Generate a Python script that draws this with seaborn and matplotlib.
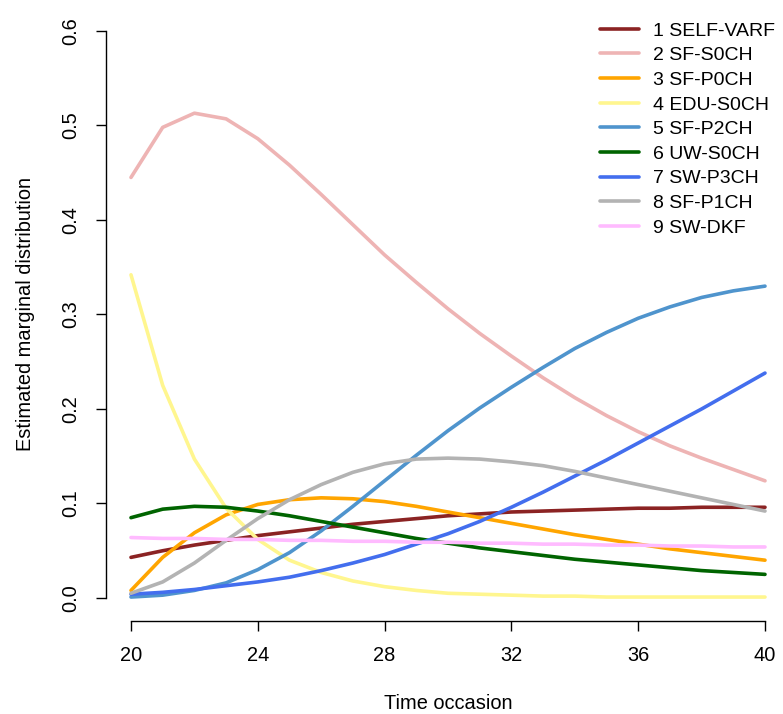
import numpy as np
import pandas as pd
import matplotlib
matplotlib.use("Agg")
import matplotlib.pyplot as plt
import seaborn as sns

# Time occasions and estimated marginal distribution per latent state
time = list(range(20, 41))

labels = ["1 SELF-VARF", "2 SF-S0CH", "3 SF-P0CH", "4 EDU-S0CH", "5 SF-P2CH",
          "6 UW-S0CH", "7 SW-P3CH", "8 SF-P1CH", "9 SW-DKF"]
colors = ["#8B2323", "#EEB4B4", "#FFA500", "#FFF68F", "#4F94CD",
          "#006400", "#436EEE", "#B3B3B3", "#FFBBFF"]

self_varf = [0.043, 0.050, 0.056, 0.061, 0.066, 0.070, 0.074, 0.078, 0.081, 0.084, 0.087,
             0.089, 0.091, 0.092, 0.093, 0.094, 0.095, 0.095, 0.096, 0.096, 0.096]
sf_s0ch = [0.445, 0.498, 0.513, 0.507, 0.486, 0.458, 0.427, 0.395, 0.363, 0.334, 0.306,
           0.280, 0.256, 0.233, 0.212, 0.193, 0.176, 0.161, 0.148, 0.136, 0.124]
sf_p0ch = [0.008, 0.043, 0.069, 0.088, 0.099, 0.104, 0.106, 0.105, 0.102, 0.097, 0.091,
           0.085, 0.079, 0.073, 0.067, 0.062, 0.057, 0.052, 0.048, 0.044, 0.040]
edu_s0ch = [0.342, 0.225, 0.147, 0.095, 0.062, 0.040, 0.027, 0.018, 0.012, 0.008, 0.005,
            0.004, 0.003, 0.002, 0.002, 0.001, 0.001, 0.001, 0.001, 0.001, 0.001]
sf_p2ch = [0.001, 0.003, 0.008, 0.016, 0.030, 0.048, 0.071, 0.097, 0.124, 0.151, 0.177,
           0.201, 0.223, 0.244, 0.264, 0.281, 0.296, 0.308, 0.318, 0.325, 0.330]
uw_s0ch = [0.085, 0.094, 0.097, 0.096, 0.092, 0.087, 0.081, 0.075, 0.069, 0.063, 0.058,
           0.053, 0.049, 0.045, 0.041, 0.038, 0.035, 0.032, 0.029, 0.027, 0.025]
sw_p3ch = [0.004, 0.006, 0.009, 0.013, 0.017, 0.022, 0.029, 0.037, 0.046, 0.057, 0.068,
           0.081, 0.096, 0.112, 0.129, 0.146, 0.164, 0.182, 0.200, 0.219, 0.238]
sf_p1ch = [0.005, 0.017, 0.037, 0.061, 0.084, 0.104, 0.120, 0.133, 0.142, 0.147, 0.148,
           0.147, 0.144, 0.140, 0.134, 0.127, 0.120, 0.113, 0.106, 0.099, 0.092]
sw_dkf = [0.064, 0.063, 0.063, 0.062, 0.062, 0.061, 0.061, 0.060, 0.060, 0.059, 0.059,
          0.058, 0.058, 0.057, 0.057, 0.056, 0.056, 0.055, 0.055, 0.054, 0.054]

series = [self_varf, sf_s0ch, sf_p0ch, edu_s0ch, sf_p2ch, uw_s0ch, sw_p3ch, sf_p1ch, sw_dkf]

df = pd.DataFrame({
    "time": time * len(labels),
    "value": [v for s in series for v in s],
    "state": [lab for lab in labels for _ in time],
})

sns.set_style("white")
plt.rcParams["font.family"] = ["Liberation Sans", "DejaVu Sans"]
plt.rcParams["text.color"] = "black"
plt.rcParams["axes.labelcolor"] = "black"
plt.rcParams["xtick.color"] = "black"
plt.rcParams["ytick.color"] = "black"

fs = 14.4

fig = plt.figure(figsize=(7.83, 7.14), dpi=100)
ax = fig.add_axes([0.1349, 0.1307, 0.8745, 0.8577])

sns.lineplot(data=df, x="time", y="value", hue="state", hue_order=labels,
             palette=colors, linewidth=2.6, ax=ax, legend=False)

ax.set_xlim(19.2, 40.8)
ax.set_ylim(-0.024, 0.624)
ax.set_xticks([20, 24, 28, 32, 36, 40])
ax.set_yticks([0.0, 0.1, 0.2, 0.3, 0.4, 0.5, 0.6])
ax.set_yticklabels(["0.0", "0.1", "0.2", "0.3", "0.4", "0.5", "0.6"], rotation=90, va="center")
ax.tick_params(axis="both", direction="out", length=7, width=1, labelsize=fs,
               left=True, bottom=True, pad=11)

for side in ["top", "right"]:
    ax.spines[side].set_visible(False)
ax.spines["left"].set_bounds(0.0, 0.6)
ax.spines["bottom"].set_bounds(20, 40)
for side in ["left", "bottom"]:
    ax.spines[side].set_color("black")
    ax.spines[side].set_linewidth(1)

ax.set_xlabel("Time occasion", fontsize=fs, labelpad=21)
ax.set_ylabel("Estimated marginal distribution", fontsize=fs, labelpad=19)

handles = [plt.Line2D([], [], color=c, linewidth=2.6) for c in colors]
fig.legend(handles, labels, loc="upper left", bbox_to_anchor=(0.756, 0.980),
           frameon=False, fontsize=14.0, handlelength=2.0, labelspacing=0.36,
           handletextpad=0.75, borderaxespad=0)

plt.savefig("out.png", dpi=100)
